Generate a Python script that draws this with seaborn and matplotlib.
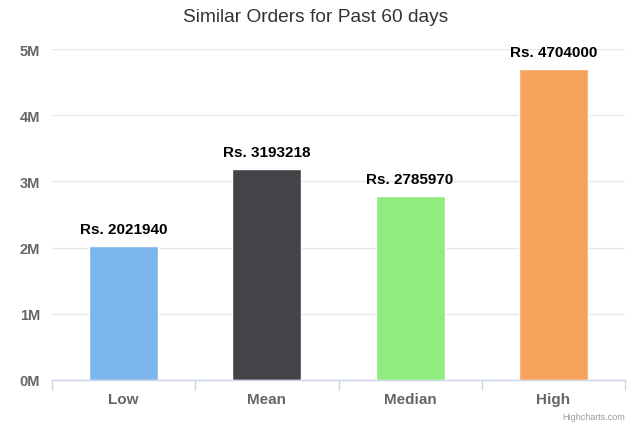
import matplotlib
matplotlib.use("Agg")
import matplotlib.pyplot as plt
import seaborn as sns
import pandas as pd
from matplotlib.ticker import FuncFormatter, FixedLocator

# values
categories = ["Low", "Mean", "Median", "High"]
values = [2021940, 3193218, 2785970, 4704000]
colors = ["#7cb5ec", "#434348", "#90ed7d", "#f7a35c"]
y_ticks = [0, 1e6, 2e6, 3e6, 4e6, 5e6]

sns.set_style("white")
plt.rcParams["font.family"] = ["Liberation Sans", "DejaVu Sans"]

df = pd.DataFrame({"cat": categories, "val": values})

fig = plt.figure(figsize=(6.32, 4.27), dpi=100)
ax = fig.add_axes([52 / 632, 1 - 381 / 427, 573 / 632, 331 / 427])

sns.barplot(data=df, x="cat", y="val", hue="cat", palette=colors,
            width=0.48, legend=False, ax=ax, saturation=1)

ax.set_xlim(-0.5, 3.5)
ax.set_ylim(0, 5e6)
ax.set_yticks(y_ticks)
ax.yaxis.set_major_formatter(FuncFormatter(lambda v, p: f"{int(v / 1e6)}M"))
ax.grid(axis="y", color="#e6e6e6", linewidth=1)
ax.set_axisbelow(True)

for s in ["top", "right", "left"]:
    ax.spines[s].set_visible(False)
ax.spines["bottom"].set_color("#ccd6eb")
ax.spines["bottom"].set_linewidth(1)

# category boundary ticks like highcharts
ax.xaxis.set_minor_locator(FixedLocator([-0.5, 0.5, 1.5, 2.5, 3.5]))
ax.tick_params(axis="x", which="minor", bottom=True, direction="out",
               length=7.2, color="#ccd6eb", width=1)
ax.tick_params(axis="x", which="major", length=0, pad=9)
ax.tick_params(axis="y", length=0, pad=8.5)

for lab in ax.get_xticklabels():
    lab.set_fontsize(11)
    lab.set_fontweight("bold")
    lab.set_color("#666666")
for lab in ax.get_yticklabels():
    lab.set_fontsize(10.5)
    lab.set_fontweight("bold")
    lab.set_color("#666666")

ax.set_xlabel("")
ax.set_ylabel("")

for i, v in enumerate(values):
    ax.annotate(f"Rs. {v}", (i, v), xytext=(0, 7), textcoords="offset points",
                ha="center", va="bottom", fontsize=11, fontweight="bold",
                color="black")

fig.text(0.5, 1 - 18 / 427, "Similar Orders for Past 60 days", ha="center",
         va="center", fontsize=13.8, color="#333333")
fig.text(625 / 632, 1 - 418 / 427, "Highcharts.com", ha="right", va="center",
         fontsize=6.5, color="#999999")

fig.savefig("out.png", dpi=100)
